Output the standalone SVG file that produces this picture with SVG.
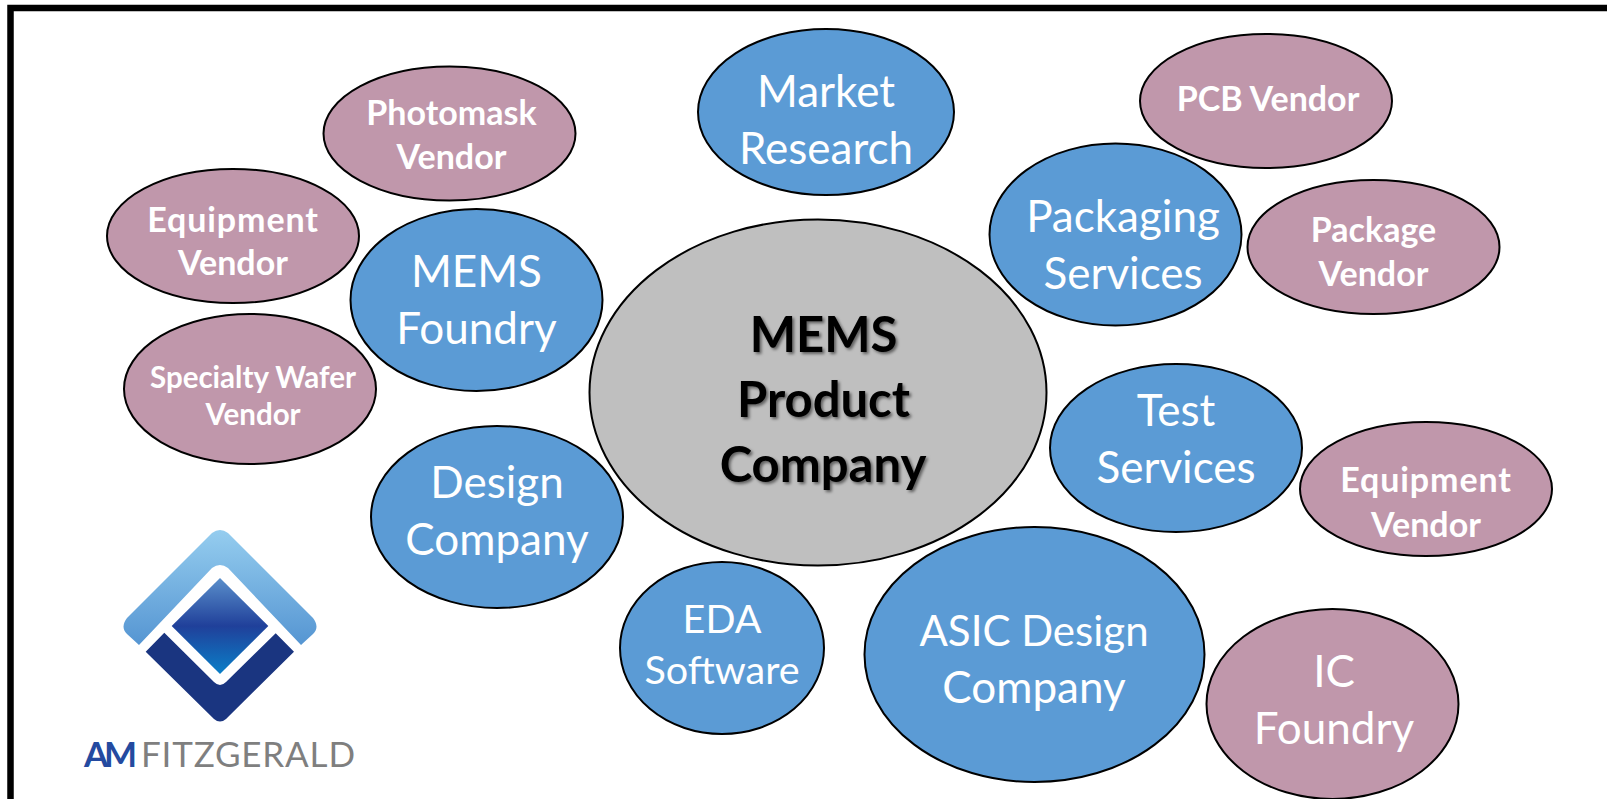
<svg xmlns="http://www.w3.org/2000/svg" width="1607" height="799" viewBox="0 0 1607 799">
<style>
ellipse{stroke:#000;stroke-width:2}
.b{fill:#5b9bd5}.r{fill:#c097ab}.g{fill:#bfbfbf}
text{font-family:"Lato","Open Sans","Liberation Sans",sans-serif;text-anchor:middle}
.bl{fill:#fff;font-size:44px}
.as{font-size:42px}
.rl{fill:#fff;font-size:34px;font-weight:700}
.wd{letter-spacing:.9px}
.sl{fill:#fff;font-size:29.500px;font-weight:700}
.el{fill:#fff;font-size:39.500px}
.cl{fill:#000;font-size:49px;font-weight:700;filter:url(#ts)}
.lg{font-size:35px;text-anchor:start}
</style>
<defs>
<filter id="ts" x="-10%" y="-10%" width="120%" height="130%"><feDropShadow dx="2" dy="2" stdDeviation="1.5" flood-color="#000" flood-opacity="0.5"/></filter>
<linearGradient id="top" x1="0" y1="0" x2="0" y2="1"><stop offset="0" stop-color="#95cdef"/><stop offset="1" stop-color="#5595d2"/></linearGradient>
<linearGradient id="mid" x1="0" y1="0" x2="0" y2="1"><stop offset="0" stop-color="#5a8fcb"/><stop offset="0.5" stop-color="#20409a"/><stop offset="1" stop-color="#0a7fc8"/></linearGradient>
</defs>
<rect width="1607" height="799" fill="#fff"/>
<path d="M10.500 799V8H1607" fill="none" stroke="#000" stroke-width="6.500"/>
<g id="connectors"></g>
<g id="center"><ellipse class="g" cx="818" cy="392.500" rx="228.500" ry="173"/><text class="cl" x="823.500" y="352">MEMS</text><text class="cl" x="823.500" y="417">Product</text><text class="cl" x="823" y="482">Company</text></g>
<g id="market"><ellipse class="b" cx="826" cy="112" rx="128" ry="83"/><text class="bl" x="826" y="107">Market</text><text class="bl" x="826" y="164">Research</text></g>
<g id="photomask"><ellipse class="r" cx="449.500" cy="133.500" rx="126" ry="67"/><text class="rl" x="451.500" y="125">Photomask</text><text class="rl" x="451.500" y="169">Vendor</text></g>
<g id="pcb"><ellipse class="r" cx="1266" cy="101" rx="126" ry="67"/><text class="rl" x="1268" y="111">PCB Vendor</text></g>
<g id="equipment1"><ellipse class="r" cx="233" cy="236" rx="126" ry="67"/><text class="rl wd" x="233" y="232">Equipment</text><text class="rl" x="233" y="275">Vendor</text></g>
<g id="package"><ellipse class="r" cx="1373.500" cy="247" rx="126" ry="67"/><text class="rl" x="1373.500" y="242">Package</text><text class="rl" x="1373.500" y="286">Vendor</text></g>
<g id="specialty"><ellipse class="r" cx="250" cy="389" rx="126" ry="75"/><text class="sl" x="253" y="387.500">Specialty Wafer</text><text class="sl" x="253" y="425">Vendor</text></g>
<g id="equipment2"><ellipse class="r" cx="1426" cy="489" rx="126" ry="67"/><text class="rl wd" x="1426" y="492">Equipment</text><text class="rl" x="1426" y="537">Vendor</text></g>
<g id="icfoundry"><ellipse class="r" cx="1332.500" cy="704" rx="126" ry="95"/><text class="bl" x="1334" y="687">IC</text><text class="bl" x="1334" y="744">Foundry</text></g>
<g id="memsfoundry"><ellipse class="b" cx="476.500" cy="300" rx="126" ry="91"/><text class="bl" x="476.500" y="287">MEMS</text><text class="bl" x="476.500" y="344">Foundry</text></g>
<g id="packaging"><ellipse class="b" cx="1115.500" cy="234.500" rx="126" ry="91"/><text class="bl" x="1123" y="232">Packaging</text><text class="bl" x="1123" y="289">Services</text></g>
<g id="test"><ellipse class="b" cx="1176" cy="448" rx="126" ry="84"/><text class="bl" x="1176" y="426">Test</text><text class="bl" x="1176" y="483">Services</text></g>
<g id="design"><ellipse class="b" cx="497" cy="517" rx="126" ry="91"/><text class="bl" x="497" y="498">Design</text><text class="bl" x="497" y="555">Company</text></g>
<g id="eda"><ellipse class="b" cx="722" cy="648" rx="102" ry="86"/><text class="el" x="722" y="633">EDA</text><text class="el" x="722" y="684">Software</text></g>
<g id="asic"><ellipse class="b" cx="1034.500" cy="654.500" rx="170" ry="127.500"/><text class="bl as" x="1034" y="646">ASIC Design</text><text class="bl" x="1034" y="703">Company</text></g>
<g id="logo">
<path d="M212 533Q220 527 228 533L313 618Q320 627 313 634L301 645L228 568Q220 562 212 568L139 645L127 634Q120 627 127 618Z" fill="url(#top)"/>
<path d="M220 578L268.300 626L220 674L171.700 626Z" fill="url(#mid)"/>
<path d="M164.300 632.700L214 682Q220 688 226 682L275.700 633.300L294 651.700L226 719Q220 724 214 719L145.700 651.700Z" fill="#1a3580"/>
<text class="lg" x="84" y="767" textLength="53" fill="#244aa0" font-weight="700">AM</text>
<text class="lg" x="141" y="767" textLength="214" fill="#7f7f7f">FITZGERALD</text>
</g>
</svg>
